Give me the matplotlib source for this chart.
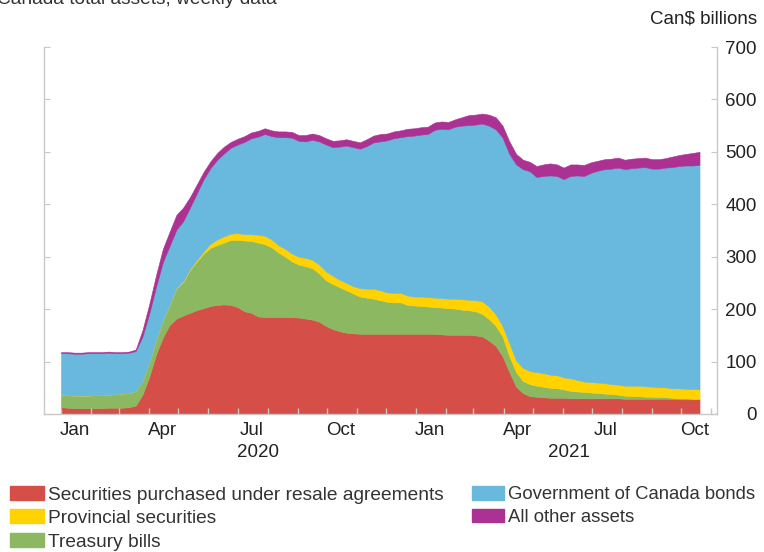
import matplotlib
matplotlib.use("Agg")
import matplotlib.pyplot as plt
import matplotlib.dates as mdates
import matplotlib.transforms as mtransforms
import matplotlib.patches as mpatches
import pandas as pd

plt.rcParams['font.family'] = ['Liberation Sans', 'DejaVu Sans']

# weekly data, Wednesdays from 1 Jan 2020 to 20 Oct 2021 (Can$ billions)
weeks = pd.date_range('2020-01-01', periods=95, freq='7D')

repo = [13, 12, 11, 11, 11, 11, 11, 12, 12, 12, 13,
        16, 37, 71, 114, 146, 170, 182, 188, 193, 198, 202, 206, 208, 209,
        208, 204, 196, 193, 186, 185, 185, 185, 185, 185, 184,
        182, 180, 176, 168, 162, 158, 155, 154, 153, 153, 153, 153, 153, 153, 153, 153,
        153, 153, 153, 153, 152, 151, 151,
        151, 151, 150, 148, 140, 130, 110, 80, 52, 40, 34, 33, 32, 31, 31, 31, 30,
        30, 30, 30, 30, 30, 30, 30, 29, 29, 29, 29, 29, 29, 29, 29, 28, 28, 28, 28]

tbills = [24, 24, 24, 24, 24, 25, 25, 25, 26, 27, 27,
          28, 26, 28, 27, 33, 38, 58, 64, 82, 93, 104, 111, 114, 118,
          124, 128, 135, 137, 141, 139, 133, 123, 115, 106, 101,
          100, 98, 92, 87, 86, 84, 81, 76, 71, 69, 67, 64, 61, 60, 60, 55,
          54, 53, 52, 51, 51, 51, 50,
          48, 47, 46, 43, 41, 38, 38, 30, 28, 23, 23, 21, 20, 19, 18, 16, 14,
          13, 12, 11, 10, 9, 8, 7, 6, 5, 5, 4, 4, 3, 3, 2, 2, 2, 1, 1]

provincial = [0, 0, 0, 0, 0, 0, 0, 0, 0, 0, 0,
              0, 0, 0, 0, 0, 1, 1, 2, 2, 3, 4, 8, 11, 12,
              12, 13, 12, 13, 15, 16, 15, 14, 15, 15, 15,
              16, 16, 17, 17, 16, 14, 14, 14, 16, 17, 19, 19, 18, 18, 18, 18,
              17, 18, 18, 18, 18, 18, 19,
              20, 20, 21, 24, 24, 22, 20, 25, 22, 25, 25, 26, 26, 25, 25, 23, 24,
              22, 20, 20, 20, 20, 19, 19, 19, 20, 20, 20, 19, 19, 19, 18, 19, 18, 19, 18]

goc_bonds = [79, 80, 80, 80, 81, 80, 80, 80, 78, 77, 77,
             76, 85, 93, 102, 111, 112, 111, 114, 117, 127, 138, 144, 152, 158,
             164, 169, 176, 183, 187, 194, 197, 206, 213, 221, 221,
             222, 229, 235, 242, 245, 254, 262, 265, 266, 272, 279, 284, 290, 295, 297, 304,
             307, 309, 311, 320, 323, 323, 328,
             331, 333, 335, 339, 345, 353, 359, 361, 374, 379, 381, 372, 376, 380, 380, 378, 386,
             390, 392, 399, 404, 408, 411, 414, 413, 415, 416, 418, 416, 417, 419, 422, 424, 426, 426, 428]

other = [2, 2, 2, 2, 2, 2, 2, 2, 2, 2, 2,
         3, 12, 18, 22, 25, 27, 28, 26, 20, 17, 14, 13, 13, 13,
         11, 11, 11, 11, 11, 11, 11, 11, 11, 11, 11,
         12, 12, 12, 12, 12, 12, 12, 12, 12, 13, 13, 14, 13, 13, 13, 14,
         14, 14, 14, 14, 14, 14, 14,
         16, 19, 19, 19, 21, 23, 23, 24, 20, 18, 18, 21, 22, 23, 22, 22, 22,
         21, 21, 20, 19, 19, 19, 19, 18, 18, 18, 18, 18, 18, 18, 20, 21, 22, 24, 25]

labels = ["Securities purchased under resale agreements", "Treasury bills",
          "Provincial securities", "Government of Canada bonds", "All other assets"]
colors = ["#d54e48", "#8cb862", "#ffd200", "#69b8de", "#ab3292"]

fig = plt.figure(figsize=(7.64, 5.52), dpi=100)
ax = fig.add_axes([44 / 764, 1 - 414 / 552, (717 - 44) / 764, (414 - 47) / 552])

ax.stackplot(weeks, repo, tbills, provincial, goc_bonds, other,
             colors=colors, linewidth=0.4, edgecolor='face')

ax.set_ylim(0, 700)
ax.set_xlim(pd.Timestamp('2019-12-14 12:00'), pd.Timestamp('2021-11-07'))

grey = '#c8c8c8'
for side in ['left', 'right', 'bottom']:
    ax.spines[side].set_color(grey)
    ax.spines[side].set_linewidth(1)
ax.spines['top'].set_visible(False)

ax.set_yticks(range(0, 701, 100))
ax.tick_params(axis='y', direction='in', left=True, right=True,
               labelleft=False, labelright=True, length=4, color=grey,
               pad=28.8, labelsize=13.5, labelcolor='#222222')
for lab in ax.get_yticklabels():
    lab.set_horizontalalignment('right')

ax.xaxis.set_major_locator(mdates.MonthLocator(bymonth=[1, 4, 7, 10], bymonthday=15))
ax.xaxis.set_major_formatter(mdates.DateFormatter('%b'))
ax.xaxis.set_minor_locator(mdates.MonthLocator())
ax.tick_params(axis='x', which='major', length=0, pad=6, labelsize=13.5, labelcolor='#222222')
ax.tick_params(axis='x', which='minor', direction='in', length=4, color=grey, width=1)

trans = mtransforms.blended_transform_factory(ax.transData, ax.transAxes)
ax.text(pd.Timestamp('2020-07-22'), -0.106, "2020", transform=trans,
        ha='center', va='center', fontsize=13.5, color='#222222')
ax.text(pd.Timestamp('2021-06-07'), -0.106, "2021", transform=trans,
        ha='center', va='center', fontsize=13.5, color='#222222')

# title sits partly above the top edge, as in the source image
fig.text(-3 / 764, 1 - 4 / 552, "Canada total assets, weekly data",
         ha='left', va='baseline', fontsize=13.8, color='#333333')
fig.text(757 / 764, 1 - 19 / 552, "Can$ billions", ha='right', va='center',
         fontsize=13.5, color='#222222')

handles = [mpatches.Patch(color=c) for c in colors]
leg_kw = dict(frameon=False, loc='upper left', borderpad=0, borderaxespad=0,
              handlelength=1.75, handleheight=0.75, handletextpad=0.22,
              labelspacing=0.3, labelcolor='#333333')
fig.legend([handles[0], handles[2], handles[1]], [labels[0], labels[2], labels[1]],
           bbox_to_anchor=(10 / 764, 1 - 486 / 552), fontsize=13.8, **leg_kw)
fig.legend([handles[3], handles[4]], [labels[3], labels[4]],
           bbox_to_anchor=(472 / 764, 1 - 486 / 552), fontsize=13.3, **leg_kw)

fig.savefig("out.png", dpi=100)
